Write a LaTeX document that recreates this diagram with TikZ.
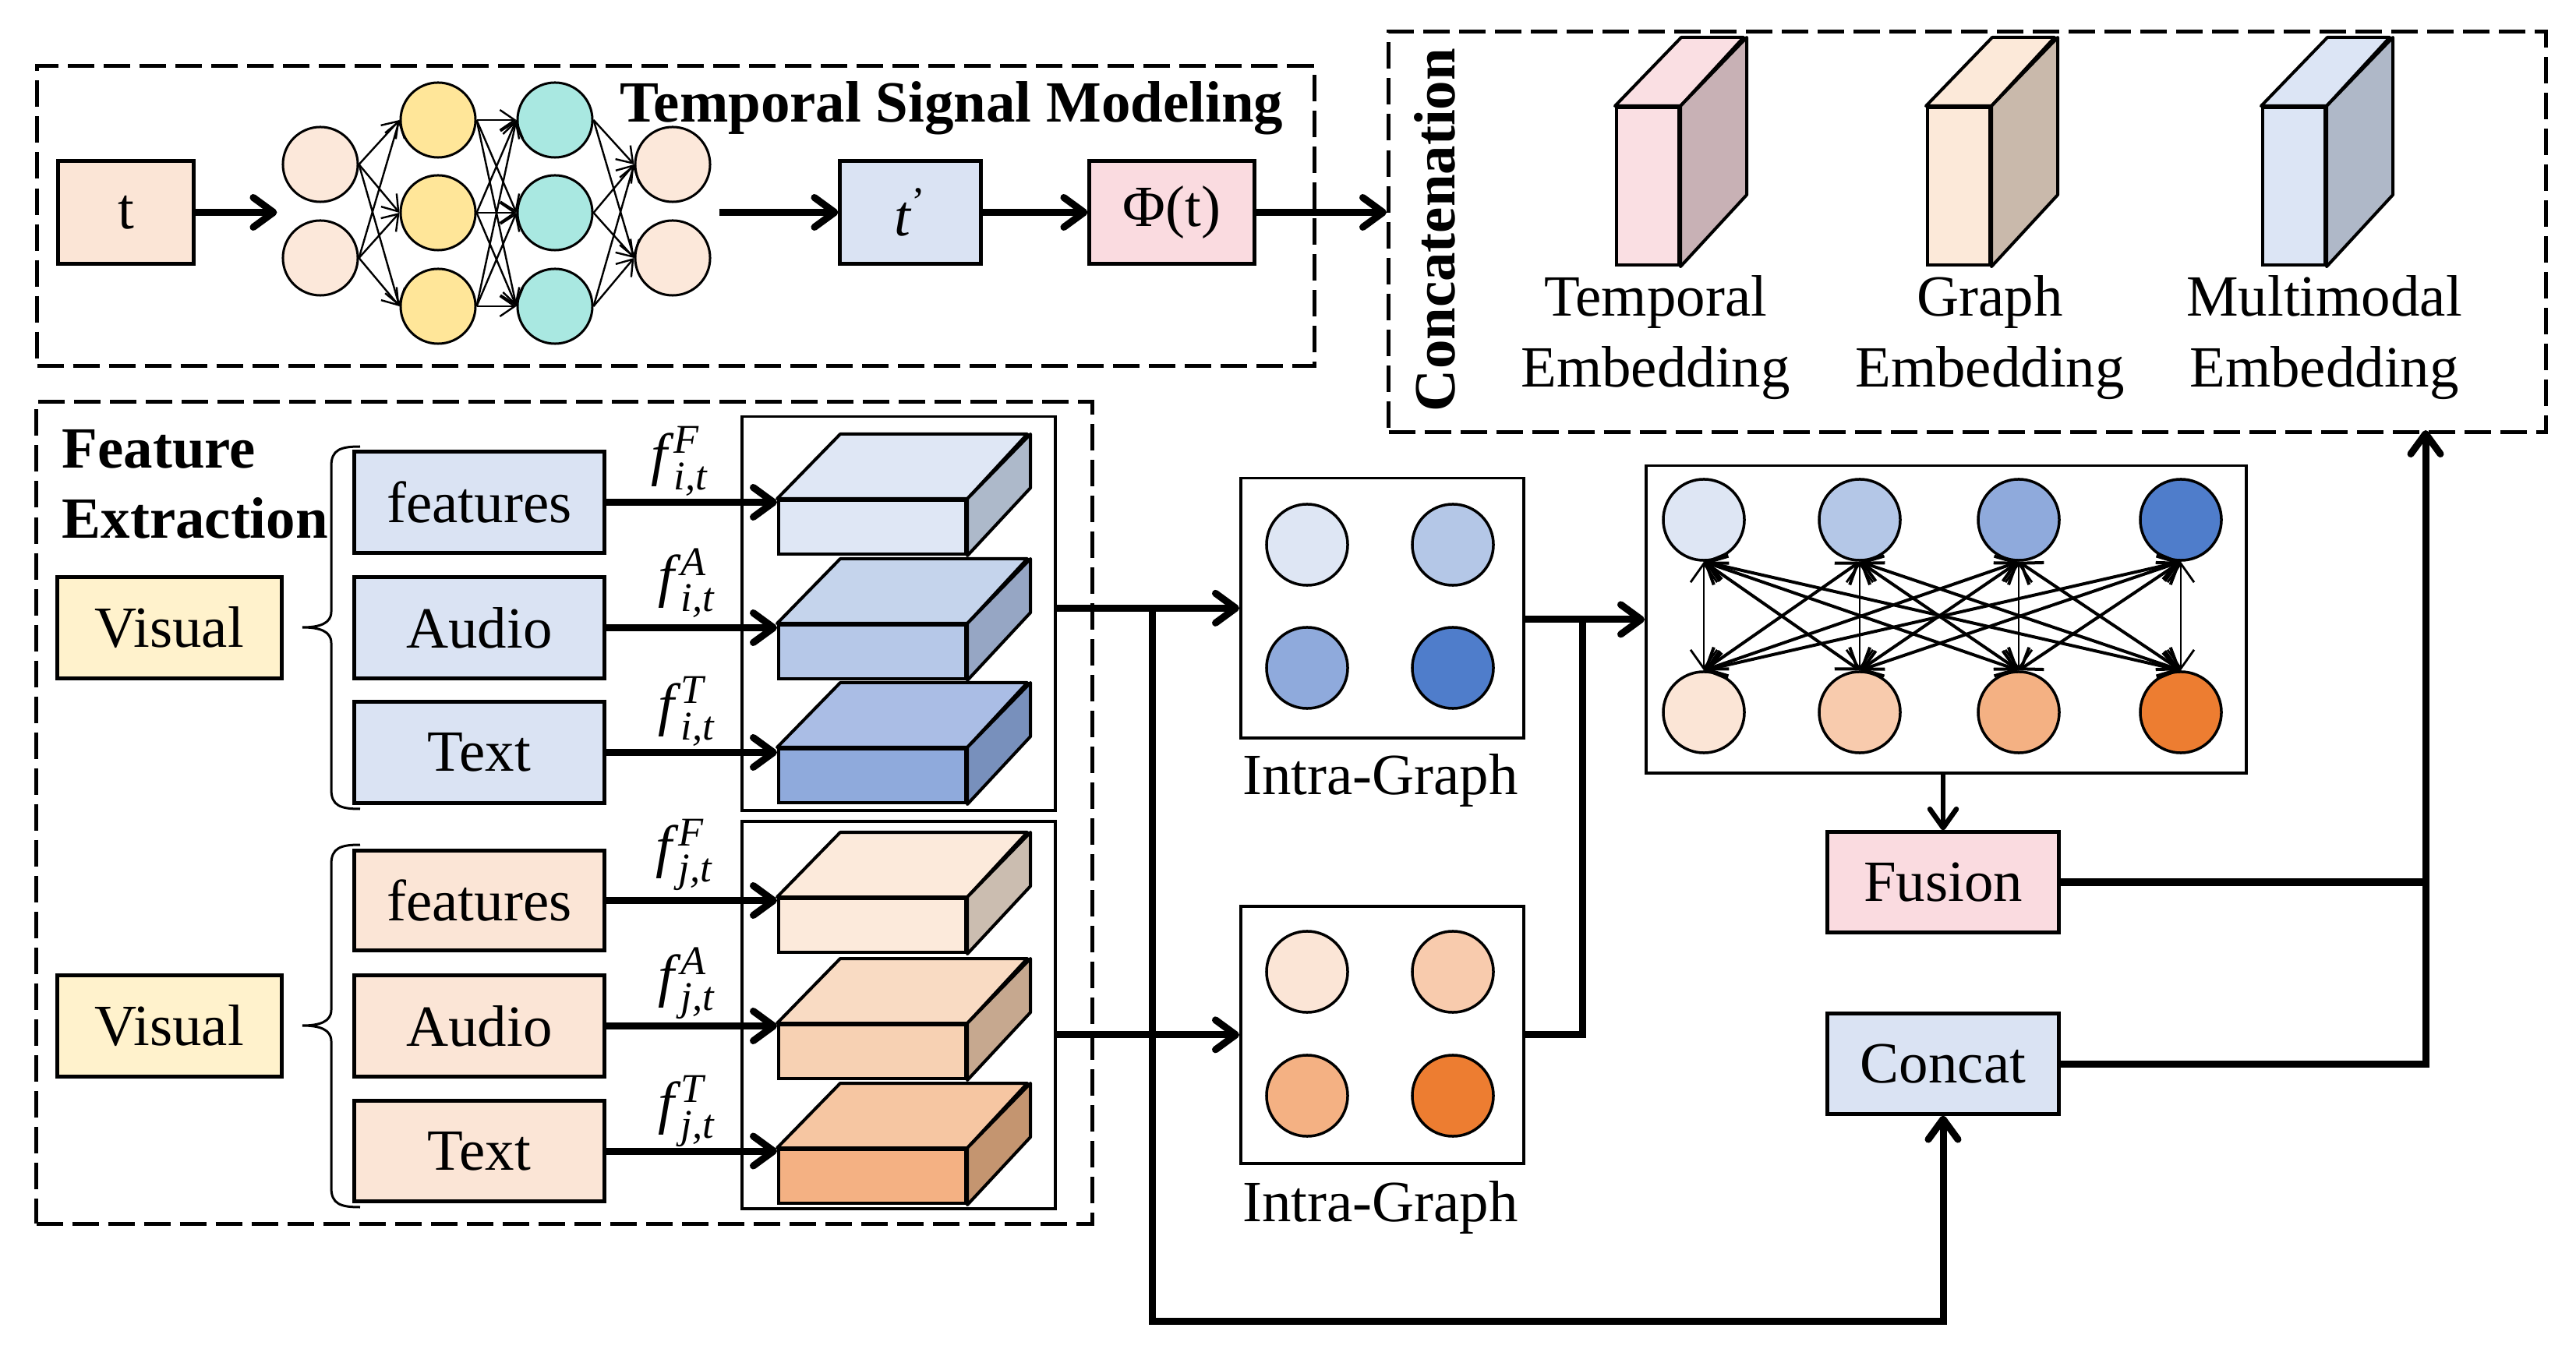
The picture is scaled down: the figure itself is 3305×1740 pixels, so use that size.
\documentclass[tikz,border=0pt]{standalone}
\usepackage{amsmath}
\usepackage{fontspec}
\setmainfont{Liberation Serif}
\usetikzlibrary{arrows.meta,calc}
\definecolor{cPeach}{HTML}{FBE5D6}
\definecolor{cNNp}{HTML}{FCE8DA}
\definecolor{cYel}{HTML}{FFE699}
\definecolor{cTeal}{HTML}{A9E8E1}
\definecolor{cBlue}{HTML}{DAE3F3}
\definecolor{cPink}{HTML}{FADBE0}
\definecolor{cVis}{HTML}{FFF2CC}
% cubes blue
\definecolor{bOneF}{HTML}{DFE7F5}\definecolor{bOneT}{HTML}{DFE7F5}\definecolor{bOneS}{HTML}{ADB9CA}
\definecolor{bTwoF}{HTML}{B6C8E8}\definecolor{bTwoT}{HTML}{C5D4EC}\definecolor{bTwoS}{HTML}{96A6C4}
\definecolor{bThrF}{HTML}{8FAADC}\definecolor{bThrT}{HTML}{AABDE5}\definecolor{bThrS}{HTML}{7890BC}
% cubes orange
\definecolor{oOneF}{HTML}{FCEADB}\definecolor{oOneT}{HTML}{FCEADB}\definecolor{oOneS}{HTML}{CBBDB0}
\definecolor{oTwoF}{HTML}{F7D1B3}\definecolor{oTwoT}{HTML}{F9DBC3}\definecolor{oTwoS}{HTML}{C6A88F}
\definecolor{oThrF}{HTML}{F4B183}\definecolor{oThrT}{HTML}{F6C6A2}\definecolor{oThrS}{HTML}{C49570}
% slabs
\definecolor{sTF}{HTML}{FADFE3}\definecolor{sTS}{HTML}{C8B1B5}
\definecolor{sGF}{HTML}{FCE9D9}\definecolor{sGS}{HTML}{C9B9AB}
\definecolor{sMF}{HTML}{DCE5F5}\definecolor{sMS}{HTML}{AFB8C8}
% graph circles
\definecolor{gbA}{HTML}{DEE6F4}\definecolor{gbB}{HTML}{B4C7E7}\definecolor{gbC}{HTML}{8FAADC}\definecolor{gbD}{HTML}{4F7DCB}
\definecolor{goA}{HTML}{FBE5D6}\definecolor{goB}{HTML}{F8CBAD}\definecolor{goC}{HTML}{F4B183}\definecolor{goD}{HTML}{ED7D31}
\newcommand{\flab}[2]{\textit{f}$^{\textit{#2}}_{\textit{#1}}$}
\begin{document}
\begin{tikzpicture}[x=0.01cm,y=-0.01cm,
  font=\fontsize{21.3}{25.6}\selectfont,
  bx/.style={draw, line width=0.05cm, inner sep=0pt},
  thinbox/.style={draw, line width=0.035cm, inner sep=0pt},
  dbox/.style={draw, line width=0.05cm, dash pattern=on 0.34cm off 0.12cm, inner sep=0pt},
  lbl/.style={inner sep=0pt},
  nn/.style={circle, draw, line width=0.03cm, minimum size=0.96cm, inner sep=0pt},
  gc/.style={circle, draw, line width=0.035cm, minimum size=1.04cm, inner sep=0pt},
  cubef/.style={draw, line width=0.04cm, inner sep=0pt, anchor=north west, minimum width=2.40cm, minimum height=0.69cm},
  cubel/.style={draw, line width=0.04cm, line join=round},
  slabf/.style={draw, line width=0.04cm, inner sep=0pt, anchor=north west, minimum width=0.80cm, minimum height=2.02cm},
  arr/.style={line width=0.09cm, -{Straight Barb[length=0.26cm,width=0.38cm,round]}},
  arrtwo/.style={line width=0.065cm, -{Straight Barb[length=0.24cm,width=0.34cm,round]}},
  conn/.style={line width=0.09cm},
  nnarr/.style={line width=0.024cm, -{Straight Barb[length=0.19cm,width=0.26cm]}},
  garr/.style={line width=0.04cm, {Straight Barb[length=0.24cm,width=0.34cm]}-{Straight Barb[length=0.24cm,width=0.34cm]}},
  garrv/.style={line width=0.028cm, {Straight Barb[length=0.24cm,width=0.34cm]}-{Straight Barb[length=0.24cm,width=0.34cm]}}
]
\useasboundingbox (0,0) rectangle (3305,1740);

% ---------------- Temporal Signal Modeling ----------------
\node[dbox, anchor=north west, minimum width=16.38cm, minimum height=3.85cm] (tsm) at (45,82) {};
\node[lbl, anchor=base west, font=\fontsize{21.3}{25.6}\selectfont\bfseries] (tsmt) at (795,157) {Temporal Signal Modeling};
\node[bx, fill=cPeach, minimum width=1.73cm, minimum height=1.31cm] (tb) at (161.5,272.5) {t};

\node[nn, fill=cNNp] (a1) at (411,211) {};
\node[nn, fill=cNNp] (a2) at (411,331) {};
\node[nn, fill=cYel] (b1) at (562,154) {};
\node[nn, fill=cYel] (b2) at (562,273) {};
\node[nn, fill=cYel] (b3) at (562,393) {};
\node[nn, fill=cTeal] (c1) at (712,154) {};
\node[nn, fill=cTeal] (c2) at (712,273) {};
\node[nn, fill=cTeal] (c3) at (712,393) {};
\node[nn, fill=cNNp] (d1) at (863,211) {};
\node[nn, fill=cNNp] (d2) at (863,331) {};
\foreach \s in {a1,a2} \foreach \t in {b1,b2,b3} \draw[nnarr] (\s.east) -- (\t.west);
\foreach \s in {b1,b2,b3} \foreach \t in {c1,c2,c3} \draw[nnarr] (\s.east) -- (\t.west);
\foreach \s in {c1,c2,c3} \foreach \t in {d1,d2} \draw[nnarr] (\s.east) -- (\t.west);

\node[bx, fill=cBlue, minimum width=1.80cm, minimum height=1.31cm] (tp) at (1168,272.5) {\textit{t}\textsuperscript{’}};
\node[bx, fill=cPink, minimum width=2.11cm, minimum height=1.31cm] (phi) at (1503.5,272.5) {Φ(t)};

\draw[arr] (tb.east) -- ($(tb.east -| a1.west)+(-6,0)$);
\draw[arr] ($(d1.east |- tp.west)+(10,0)$) -- (tp.west);
\draw[arr] (tp.east) -- (phi.west);

% ---------------- Concatenation ----------------
\node[dbox, anchor=north west, minimum width=14.84cm, minimum height=5.14cm] (cbox) at (1779,38) {};
\draw[arr] (phi.east) -- (phi.east -| cbox.west);
\node[lbl, rotate=90, font=\fontsize{21.3}{25.6}\selectfont\bfseries] (cct) at (1841,295) {Concatenation};

\node[slabf, fill=sTF] (s1) at (2072,136) {};
\draw[cubel, fill=sTF] (s1.north west) -- ++(85,-88) -- ++(80,0) -- (s1.north east) -- cycle;
\draw[cubel, fill=sTS] (s1.north east) -- ++(85,-88) -- ++(0,202) -- (s1.south east) -- cycle;
\node[slabf, fill=sGF] (s2) at (2471,136) {};
\draw[cubel, fill=sGF] (s2.north west) -- ++(85,-88) -- ++(80,0) -- (s2.north east) -- cycle;
\draw[cubel, fill=sGS] (s2.north east) -- ++(85,-88) -- ++(0,202) -- (s2.south east) -- cycle;
\node[slabf, fill=sMF] (s3) at (2901,136) {};
\draw[cubel, fill=sMF] (s3.north west) -- ++(85,-88) -- ++(80,0) -- (s3.north east) -- cycle;
\draw[cubel, fill=sMS] (s3.north east) -- ++(85,-88) -- ++(0,202) -- (s3.south east) -- cycle;

\node[lbl, anchor=base] (e1a) at (2124,406) {Temporal};
\node[lbl, anchor=base] (e1b) at (2124,497) {Embedding};
\node[lbl, anchor=base] (e2a) at (2553,406) {Graph};
\node[lbl, anchor=base] (e2b) at (2553,497) {Embedding};
\node[lbl, anchor=base] (e3a) at (2982,406) {Multimodal};
\node[lbl, anchor=base] (e3b) at (2982,497) {Embedding};

% ---------------- Feature Extraction ----------------
\node[dbox, anchor=north west, minimum width=13.54cm, minimum height=10.54cm] (fe) at (44,513) {};
\node[lbl, anchor=base west, font=\fontsize{21.3}{25.6}\selectfont\bfseries] (fet1) at (79,601) {Feature};
\node[lbl, anchor=base west, font=\fontsize{21.3}{25.6}\selectfont\bfseries] (fet2) at (79,691) {Extraction};

\node[bx, fill=cVis, minimum width=2.87cm, minimum height=1.29cm] (v1) at (217.5,805.5) {Visual};
\node[bx, fill=cVis, minimum width=2.87cm, minimum height=1.29cm] (v2) at (217.5,1316.5) {Visual};

\draw[line width=0.03cm] (462,573) .. controls (437,573) and (425,577) .. (425,598) -- (425,785)
  .. controls (425,800) and (410,805) .. (388,805) .. controls (410,805) and (425,810) .. (425,825)
  -- (425,1013) .. controls (425,1034) and (437,1038) .. (462,1038);
\draw[line width=0.03cm] (462,1084) .. controls (437,1084) and (425,1088) .. (425,1109) -- (425,1296)
  .. controls (425,1311) and (410,1316) .. (388,1316) .. controls (410,1316) and (425,1321) .. (425,1336)
  -- (425,1524) .. controls (425,1545) and (437,1549) .. (462,1549);

\node[bx, fill=cBlue, minimum width=3.20cm, minimum height=1.29cm] (m1) at (615,644.5) {features};
\node[bx, fill=cBlue, minimum width=3.20cm, minimum height=1.29cm] (m2) at (615,805.5) {Audio};
\node[bx, fill=cBlue, minimum width=3.20cm, minimum height=1.29cm] (m3) at (615,965.5) {Text};
\node[bx, fill=cPeach, minimum width=3.20cm, minimum height=1.27cm] (o1) at (615,1155.5) {features};
\node[bx, fill=cPeach, minimum width=3.20cm, minimum height=1.29cm] (o2) at (615,1316.5) {Audio};
\node[bx, fill=cPeach, minimum width=3.20cm, minimum height=1.28cm] (o3) at (615,1477) {Text};

\node[thinbox, anchor=north west, minimum width=4.02cm, minimum height=5.05cm] (cb) at (950,533) {};
\node[thinbox, anchor=north west, minimum width=4.02cm, minimum height=4.97cm] (co) at (950,1052) {};

% blue cubes
\node[cubef, fill=bOneF] (q1) at (997,640) {};
\draw[cubel, fill=bOneT] (q1.north west) -- ++(81,-83) -- ++(240,0) -- (q1.north east) -- cycle;
\draw[cubel, fill=bOneS] (q1.north east) -- ++(81,-83) -- ++(0,69) -- (q1.south east) -- cycle;
\node[cubef, fill=bTwoF] (q2) at (997,800) {};
\draw[cubel, fill=bTwoT] (q2.north west) -- ++(81,-83) -- ++(240,0) -- (q2.north east) -- cycle;
\draw[cubel, fill=bTwoS] (q2.north east) -- ++(81,-83) -- ++(0,69) -- (q2.south east) -- cycle;
\node[cubef, fill=bThrF] (q3) at (997,959) {};
\draw[cubel, fill=bThrT] (q3.north west) -- ++(81,-83) -- ++(240,0) -- (q3.north east) -- cycle;
\draw[cubel, fill=bThrS] (q3.north east) -- ++(81,-83) -- ++(0,69) -- (q3.south east) -- cycle;
% orange cubes
\node[cubef, fill=oOneF] (r1) at (997,1151) {};
\draw[cubel, fill=oOneT] (r1.north west) -- ++(81,-83) -- ++(240,0) -- (r1.north east) -- cycle;
\draw[cubel, fill=oOneS] (r1.north east) -- ++(81,-83) -- ++(0,69) -- (r1.south east) -- cycle;
\node[cubef, fill=oTwoF] (r2) at (997,1313) {};
\draw[cubel, fill=oTwoT] (r2.north west) -- ++(81,-83) -- ++(240,0) -- (r2.north east) -- cycle;
\draw[cubel, fill=oTwoS] (r2.north east) -- ++(81,-83) -- ++(0,69) -- (r2.south east) -- cycle;
\node[cubef, fill=oThrF] (r3) at (997,1473) {};
\draw[cubel, fill=oThrT] (r3.north west) -- ++(81,-83) -- ++(240,0) -- (r3.north east) -- cycle;
\draw[cubel, fill=oThrS] (r3.north east) -- ++(81,-83) -- ++(0,69) -- (r3.south east) -- cycle;

\draw[arr] (m1.east) -- (m1.east -| q1.west);
\draw[arr] (m2.east) -- (m2.east -| q2.west);
\draw[arr] (m3.east) -- (m3.east -| q3.west);
\draw[arr] (o1.east) -- (o1.east -| r1.west);
\draw[arr] (o2.east) -- (o2.east -| r2.west);
\draw[arr] (o3.east) -- (o3.east -| r3.west);

\node[lbl] (fl1) at (872,592) {\flab{i,t}{F}};
\node[lbl] (fl2) at (881,748) {\flab{i,t}{A}};
\node[lbl] (fl3) at (881,913) {\flab{i,t}{T}};
\node[lbl] (fl4) at (878,1097) {\flab{j,t}{F}};
\node[lbl] (fl5) at (881,1262) {\flab{j,t}{A}};
\node[lbl] (fl6) at (881,1426) {\flab{j,t}{T}};

% ---------------- Intra graphs ----------------
\node[thinbox, anchor=north west, minimum width=3.63cm, minimum height=3.33cm] (it) at (1590,612) {};
\node[gc, fill=gbA] (it1) at (1677,699) {};
\node[gc, fill=gbB] (it2) at (1864,699) {};
\node[gc, fill=gbC] (it3) at (1677,857) {};
\node[gc, fill=gbD] (it4) at (1864,857) {};
\node[lbl, anchor=base] (itl) at (1771,1019) {Intra-Graph};

\node[thinbox, anchor=north west, minimum width=3.63cm, minimum height=3.30cm] (ib) at (1590,1161) {};
\node[gc, fill=goA] (ib1) at (1677,1247) {};
\node[gc, fill=goB] (ib2) at (1864,1247) {};
\node[gc, fill=goC] (ib3) at (1677,1406) {};
\node[gc, fill=goD] (ib4) at (1864,1406) {};
\node[lbl, anchor=base] (ibl) at (1771,1567) {Intra-Graph};

% ---------------- Inter graph ----------------
\node[thinbox, anchor=north west, minimum width=7.70cm, minimum height=3.94cm] (bg) at (2110,596) {};
\node[gc, fill=gbA] (u1) at (2186,667) {};
\node[gc, fill=gbB] (u2) at (2386,667) {};
\node[gc, fill=gbC] (u3) at (2590,667) {};
\node[gc, fill=gbD] (u4) at (2798,667) {};
\node[gc, fill=goA] (l1) at (2186,914) {};
\node[gc, fill=goB] (l2) at (2386,914) {};
\node[gc, fill=goC] (l3) at (2590,914) {};
\node[gc, fill=goD] (l4) at (2798,914) {};
\foreach \i in {1,...,4} \foreach \j in {1,...,4} {
  \ifnum\i=\j \draw[garrv] (u\i.south) -- (l\j.north);
  \else \draw[garr] (u\i.south) -- (l\j.north); \fi
}

\node[bx, fill=cPink, minimum width=2.96cm, minimum height=1.28cm] (fu) at (2493,1132) {Fusion};
\node[bx, fill=cBlue, minimum width=2.96cm, minimum height=1.28cm] (cc) at (2493,1365) {Concat};

% ---------------- Connectors ----------------
\draw[arr] (cb.east |- it.west) -- (it.west);
\coordinate (j1) at (1478,778.5);
\coordinate (jb) at (1478,1695);
\draw[arr] (j1) -- (jb) -| (cc.south);
\draw[arr] (co.east |- ib.west) -- (ib.west);
\draw[arr] (it.east |- bg.west) -- (bg.west);
\coordinate (j2) at (2030,793);
\draw[conn] (j2) |- (ib.east);
\draw[arrtwo] (bg.south -| fu.north) -- (fu.north);
\coordinate (up) at (3112,552);
\draw[arr] (cc.east) -| (up);
\draw[conn] (fu.east) -- (fu.east -| up);
\end{tikzpicture}
\end{document}
